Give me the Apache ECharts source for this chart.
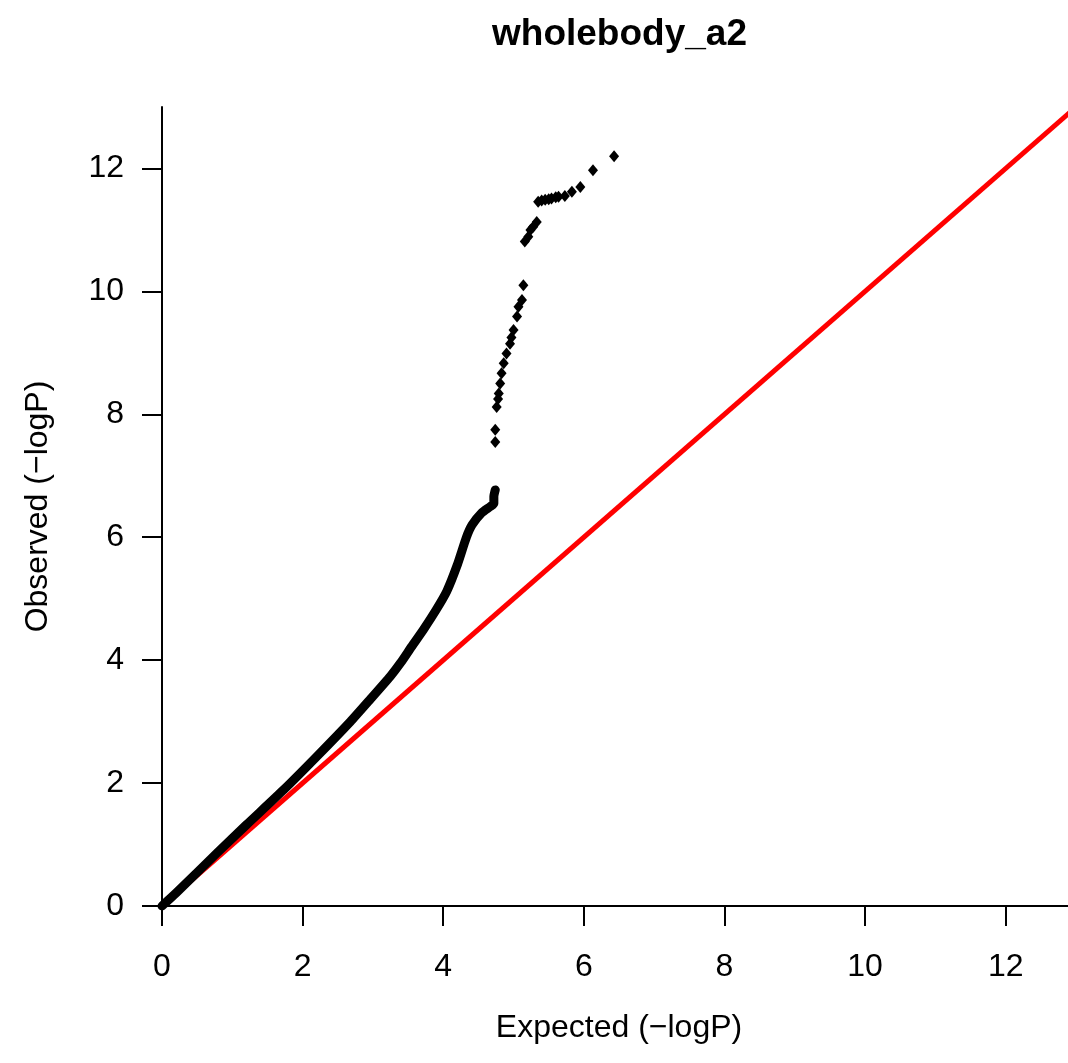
<!DOCTYPE html>
<html>
<head>
<meta charset="utf-8">
<title>wholebody_a2</title>
<script src="https://cdn.jsdelivr.net/npm/echarts@6/dist/echarts.min.js"></script>
<style>
  html, body { margin: 0; padding: 0; background: #fff; }
  #chart { width: 1068px; height: 1063px; }
</style>
</head>
<body>
<div id="chart"></div>
<script>
// dense body of the QQ curve
const bodyExpected = [0, 0.2, 0.78, 1.2, 1.73, 2.2, 2.68, 2.96, 3.25, 3.39, 3.55, 3.72, 3.90, 4.05, 4.20, 4.33, 4.41, 4.55, 4.67, 4.72, 4.72, 4.74]
const bodyObserved = [0, 0.21, 0.86, 1.32, 1.89, 2.43, 3.00, 3.36, 3.74, 3.95, 4.22, 4.50, 4.82, 5.12, 5.55, 6.00, 6.20, 6.40, 6.50, 6.55, 6.66, 6.77]

// sparse tail, single points
const tailExpected = [4.74, 4.74, 4.76, 4.78, 4.79, 4.81, 4.83, 4.86, 4.90, 4.95, 4.97, 5.00, 5.05, 5.07, 5.12, 5.14,
  5.16, 5.21, 5.24, 5.28, 5.33, 5.35, 5.40, 5.45, 5.50, 5.54, 5.60, 5.64, 5.73, 5.83, 5.95, 6.13, 6.43]
const tailObserved = [7.55, 7.75, 8.12, 8.25, 8.34, 8.50, 8.67, 8.83, 8.99, 9.15, 9.25, 9.37, 9.59, 9.75, 9.86, 10.10,
  10.81, 10.89, 11.00, 11.05, 11.13, 11.46, 11.48, 11.49, 11.50, 11.51, 11.53, 11.54, 11.55, 11.62, 11.70, 11.97, 12.20]

// y = x reference line
const refLine = [[0, 0], [13, 13]]

const xTicks = [0, 2, 4, 6, 8, 10, 12]
const yTicks = [0, 2, 4, 6, 8, 10, 12]

const FONT = 'Liberation Sans, Arial, Helvetica, sans-serif'

const zip = (a, b) => a.map((v, i) => [v, b[i]])

const axisCommon = {
  type: 'value',
  min: 0,
  max: 13,
  nameLocation: 'middle',
  nameTextStyle: { fontFamily: FONT, fontSize: 32, color: '#000' },
  axisLine: { show: true, onZero: false, lineStyle: { color: '#000', width: 2 } },
  axisTick: { show: true, length: 20, lineStyle: { color: '#000', width: 2 } },
  splitLine: { show: false },
}

const chart = echarts.init(document.getElementById('chart'))
chart.setOption({
  animation: false,
  backgroundColor: '#fff',
  title: {
    text: 'wholebody_a2',
    left: 487,
    top: 11,
    textStyle: { fontFamily: FONT, fontSize: 37, fontWeight: 'bold', color: '#000' },
  },
  // plot area runs a little past the right edge, as in the cropped original
  grid: { left: 162, width: 914, top: 107, height: 799, outerBoundsMode: 'none' },
  xAxis: {
    ...axisCommon,
    name: 'Expected (\u2212logP)',
    nameGap: 106,
    axisTick: { ...axisCommon.axisTick, customValues: xTicks },
    axisLabel: { customValues: xTicks, margin: 45, fontFamily: FONT, fontSize: 32, color: '#000' },
  },
  yAxis: {
    ...axisCommon,
    name: 'Observed (\u2212logP)',
    nameGap: 108,
    axisTick: { ...axisCommon.axisTick, customValues: yTicks },
    axisLabel: { customValues: yTicks, margin: 38, fontFamily: FONT, fontSize: 32, color: '#000' },
  },
  series: [
    {
      // red y = x line
      type: 'line',
      data: refLine,
      symbol: 'none',
      clip: true,
      lineStyle: { color: '#ff0000', width: 5 },
      z: 1,
    },
    {
      type: 'line',
      data: zip(bodyExpected, bodyObserved),
      symbol: 'none',
      smooth: 0.2,
      lineStyle: { color: '#000', width: 9, cap: 'round', join: 'round' },
      z: 2,
    },
    {
      type: 'scatter',
      data: zip(tailExpected, tailObserved),
      symbol: 'diamond',
      symbolSize: [10, 12],
      itemStyle: { color: '#000', opacity: 1 },
      z: 3,
    },
  ],
})
</script>
</body>
</html>
